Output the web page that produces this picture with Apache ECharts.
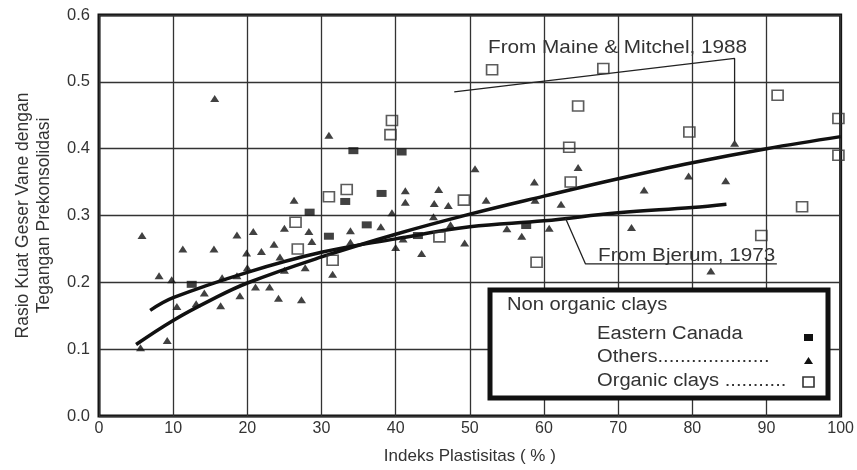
<!DOCTYPE html>
<html>
<head>
<meta charset="utf-8">
<script src="https://cdn.jsdelivr.net/npm/echarts@6/dist/echarts.min.js"></script>
<style>
  html, body { margin: 0; padding: 0; background: #fff; }
  #chart { width: 857px; height: 470px; }
</style>
</head>
<body>
<div id="chart"></div>
<script>
// values
const xTitle = 'Indeks Plastisitas ( % )';
const yTitle = 'Rasio Kuat Geser Vane dengan\nTegangan Prekonsolidasi';

const easternCanada = [
  [12.5, 0.197], [28.4, 0.305], [31, 0.269], [33.2, 0.321], [34.3, 0.397],
  [36.1, 0.286], [38.1, 0.333], [40.8, 0.395], [43, 0.27], [57.6, 0.285]
];

const others = [
  [5.6, 0.102], [5.8, 0.27], [8.1, 0.21], [9.2, 0.113], [9.8, 0.204], [10.5, 0.164],
  [11.3, 0.25], [13.1, 0.168], [14.2, 0.184], [15.5, 0.25], [15.6, 0.475], [16.4, 0.165],
  [16.6, 0.207], [18.6, 0.271], [18.6, 0.21], [19, 0.18], [19.9, 0.244], [20, 0.222],
  [20.8, 0.276], [21.1, 0.193], [21.9, 0.246], [23, 0.193], [23.6, 0.257], [24.2, 0.176],
  [24.4, 0.238], [25, 0.281], [25, 0.218], [26.3, 0.323], [27.3, 0.174], [27.8, 0.222],
  [28.3, 0.276], [28.7, 0.261], [31, 0.42], [31.5, 0.212], [33.9, 0.277], [33.9, 0.26],
  [38, 0.283], [39.5, 0.304], [40, 0.252], [41, 0.265], [41.3, 0.337], [41.3, 0.32],
  [43.5, 0.243], [45.1, 0.298], [45.2, 0.318], [45.8, 0.339], [47.1, 0.315], [47.4, 0.286],
  [49.3, 0.259], [50.7, 0.37], [52.2, 0.323], [55, 0.28], [57, 0.269], [58.7, 0.35],
  [58.8, 0.323], [60.7, 0.281], [62.3, 0.317], [64.6, 0.372], [71.8, 0.282], [73.5, 0.338],
  [79.5, 0.359], [82.5, 0.217], [84.5, 0.352], [85.7, 0.408]
];

const organicClays = [
  [26.5, 0.29], [26.8, 0.25], [31.5, 0.233], [31, 0.328], [33.4, 0.339], [39.3, 0.421],
  [39.5, 0.442], [45.9, 0.268], [49.2, 0.323], [53, 0.518], [59, 0.23], [63.4, 0.402],
  [63.6, 0.35], [64.6, 0.464], [68, 0.52], [79.6, 0.425], [89.3, 0.27], [91.5, 0.48],
  [94.8, 0.313], [99.7, 0.445], [99.7, 0.39]
];

// thick fitted curves
const mainCurve = [
  [5, 0.107], [10, 0.143], [15, 0.173], [20, 0.199], [30, 0.238], [40, 0.272],
  [50, 0.302], [60, 0.329], [70, 0.355], [80, 0.379], [90, 0.4], [100, 0.418]
];
const bjerumCurve = [
  [6.9, 0.158], [10, 0.177], [20, 0.215], [30, 0.245], [40, 0.265], [50, 0.283],
  [60, 0.292], [70, 0.304], [80, 0.312], [84.6, 0.317]
];

// thin annotation lines
const maineLine = [[47.9, 0.485], [85.7, 0.535], [85.7, 0.411]];
const bjerumLeader = [[62.9, 0.296], [65.6, 0.2275], [91.4, 0.2275]];

const FONT = 'Liberation Sans, Arial, sans-serif';
const TXT = '#333';

const chart = echarts.init(document.getElementById('chart'), null, { renderer: 'canvas' });

const option = {
  backgroundColor: '#fff',
  animation: false,
  grid: {
    left: 99, right: 13, top: 15, bottom: 54,
    show: true, borderColor: '#111', borderWidth: 3, backgroundColor: 'transparent'
  },
  xAxis: {
    type: 'value', min: 0, max: 100, interval: 10,
    name: xTitle, nameLocation: 'middle', nameGap: 32,
    nameTextStyle: { fontFamily: FONT, fontSize: 17, color: TXT },
    axisLine: { show: false },
    axisTick: { show: false },
    axisLabel: { fontFamily: FONT, fontSize: 16, color: TXT, margin: 5 },
    splitLine: { show: true, lineStyle: { color: '#333', width: 1.3 } }
  },
  yAxis: {
    type: 'value', min: 0, max: 0.6, interval: 0.1,
    name: yTitle, nameLocation: 'middle', nameGap: 44,
    nameTextStyle: { fontFamily: FONT, fontSize: 17.5, color: TXT, lineHeight: 21 },
    axisLine: { show: false },
    axisTick: { show: false },
    axisLabel: { fontFamily: FONT, fontSize: 16.5, color: TXT, margin: 9,
      formatter: v => v.toFixed(1) },
    splitLine: { show: true, lineStyle: { color: '#333', width: 1.3 } }
  },
  series: [
    {
      name: 'trend', type: 'line', data: mainCurve, smooth: 0.4, symbol: 'none',
      lineStyle: { color: '#111', width: 3.5 }, z: 3
    },
    {
      name: 'Bjerum', type: 'line', data: bjerumCurve, smooth: 0.4, symbol: 'none',
      lineStyle: { color: '#111', width: 3.5 }, z: 3
    },
    {
      name: 'Maine', type: 'line', data: maineLine, symbol: 'none',
      lineStyle: { color: '#222', width: 1.3 }, z: 3
    },
    {
      name: 'leader', type: 'line', data: bjerumLeader, symbol: 'none',
      lineStyle: { color: '#222', width: 1.3 }, z: 3
    },
    {
      name: 'Eastern Canada', type: 'scatter', data: easternCanada,
      symbol: 'rect', symbolSize: [10, 7],
      itemStyle: { color: '#111' }, z: 4
    },
    {
      name: 'Others', type: 'scatter', data: others,
      symbol: 'triangle', symbolSize: [9, 7],
      itemStyle: { color: '#111' }, z: 4
    },
    {
      name: 'Organic clays', type: 'scatter', data: organicClays,
      symbol: 'rect', symbolSize: [11, 10],
      itemStyle: { color: 'rgba(0,0,0,0)', borderColor: '#333', borderWidth: 1.6 }, z: 4
    }
  ]
};

chart.setOption(option);

// annotation texts and the legend box drawn on top (text is a little stretched sideways in the source)
const txt = (text, x, y, size) => ({
  type: 'text', x: x, y: y, z: 10, scaleX: 1.12,
  style: { text: text, fill: TXT, font: size + 'px ' + FONT, textVerticalAlign: 'middle' }
});

chart.setOption({
  graphic: [
    txt('From Maine & Mitchel, 1988', 488, 48, 18.5),
    txt('From Bjerum, 1973', 598, 256, 18.5),
    {
      type: 'rect', z: 9,
      shape: { x: 490, y: 290, width: 338, height: 108 },
      style: { fill: '#fff', stroke: '#111', lineWidth: 5 }
    },
    txt('Non organic clays', 507, 305, 18),
    txt('Eastern Canada', 597, 334, 18),
    txt('Others....................', 597, 357, 18),
    txt('Organic clays ...........', 597, 381, 18),
    {
      type: 'rect', z: 11,
      shape: { x: 804, y: 334, width: 9, height: 7 },
      style: { fill: '#111' }
    },
    {
      type: 'polygon', z: 11,
      shape: { points: [[804, 364], [808.5, 357], [813, 364]] },
      style: { fill: '#111' }
    },
    {
      type: 'rect', z: 11,
      shape: { x: 803, y: 377, width: 11, height: 10 },
      style: { fill: 'none', stroke: '#333', lineWidth: 1.6 }
    }
  ]
});
</script>
</body>
</html>
